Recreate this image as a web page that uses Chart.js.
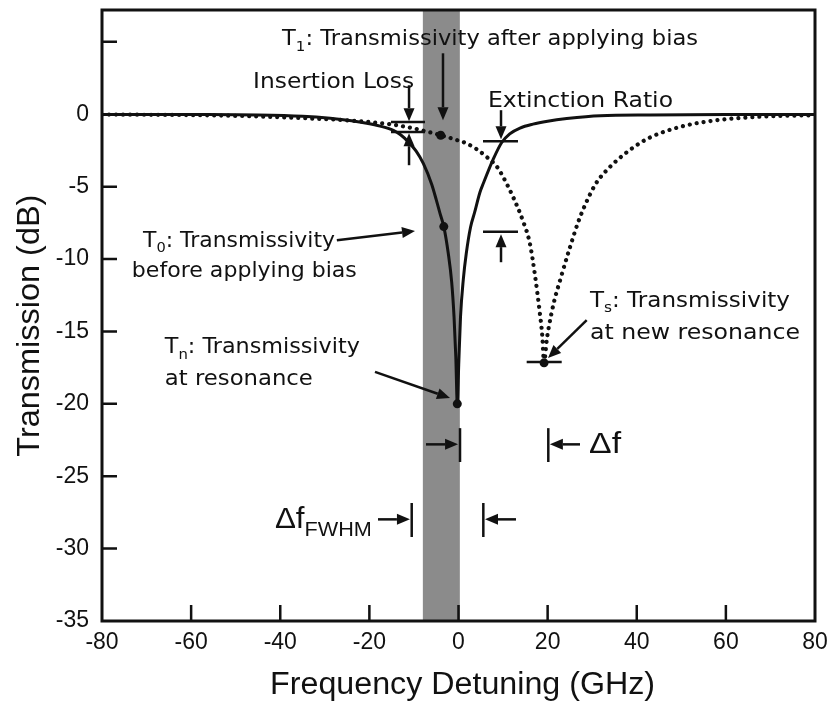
<!DOCTYPE html>
<html>
<head>
<meta charset="utf-8">
<script src="https://cdn.jsdelivr.net/npm/chart.js@4.4.1/dist/chart.umd.min.js"></script>
<style>
  html, body { margin: 0; padding: 0; background: #ffffff; }
  #wrap { width: 829px; height: 703px; }
</style>
</head>
<body>
<div id="wrap"><canvas id="c" width="829" height="703"></canvas></div>
<script>
// Ring resonance before bias (solid): detuning (GHz) and transmission (dB)
const detuningBefore = [-80, -60, -45, -35, -28.8, -24, -20.6, -17.6, -14.5, -13, -11.3, -9.5, -7.9, -6.0, -5.0, -4.15, -3.3, -2.29, -1.53, -1.0, -0.6, -0.27,
  0.05, 0.45, 1.08, 1.75, 2.7, 3.6, 4.8, 5.6, 7.8, 9.7, 11.5, 13.8, 16.7, 20, 24.3, 31.8, 43, 60, 80];
const transBefore = [-0.01, -0.02, -0.05, -0.14, -0.28, -0.45, -0.62, -0.82, -1.13, -1.42, -1.9, -2.55, -3.4, -4.85, -5.9, -6.85, -7.76, -9.62, -11.6, -14.0, -16.8, -20,
  -17.3, -14.0, -11.4, -9.6, -7.8, -6.8, -5.4, -4.75, -3.1, -1.95, -1.35, -0.95, -0.68, -0.48, -0.3, -0.1, -0.05, -0.02, -0.01];

// Shifted resonance after bias (dotted)
const detuningAfter = [-80, -60, -45, -35, -25, -15.4, -10, -7, -4.0, -1, 1.84, 4, 6.33, 8.57, 10.05, 12.3, 14.5, 16.0, 17.2, 18.2, 18.8, 19.2,
  19.8, 20.15, 21.4, 22.8, 25.0, 26.8, 28.5, 30.8, 33, 35.5, 39.2, 43, 50, 57, 65, 72, 80];
const transAfter = [-0.02, -0.06, -0.15, -0.27, -0.42, -0.69, -0.98, -1.2, -1.45, -1.72, -2.02, -2.4, -2.95, -3.6, -4.35, -5.75, -7.4, -8.9, -11.2, -13.6, -15.3, -17.17,
  -15.6, -14.9, -13.0, -11.46, -9.2, -7.5, -6.2, -4.8, -3.95, -3.2, -2.3, -1.6, -0.85, -0.45, -0.22, -0.12, -0.07];

// Marked operating points: T1, T0, Tn, Ts
const markerDetuning = [-4.0, -3.3, -0.27, 19.2];
const markerTrans = [-1.45, -7.76, -20, -17.17];

// Axis ticks
const xTickValues = [-80, -60, -40, -20, 0, 20, 40, 60, 80];
const xTickLabels = ['-80', '-60', '-40', '-20', '0', '20', '40', '60', '80'];
const yTickValues = [-35, -30, -25, -20, -15, -10, -5, 0, 5];
const yTickLabels = ['-35', '-30', '-25', '-20', '-15', '-10', '-5', '0', ''];

// Shaded operating window (GHz)
const windowBand = [-8.0, 0.3];

const toPoints = (xs, ys) => xs.map((x, i) => ({ x: x, y: ys[i] }));

const ink = '#111111';
const annFont = '"DejaVu Sans", "Liberation Sans", sans-serif';
const axisFont = '"Liberation Sans", Arial, sans-serif';

// Annotation layout in data units (GHz, dB)
const arrows = [
  [[-3.48, 4.21], [-3.48, -0.41]],     // T1
  [[-11.1, 2.0], [-11.1, -0.48]],      // insertion loss, down
  [[-11.1, -3.52], [-11.1, -1.31]],    // insertion loss, up
  [[9.54, 0.28], [9.54, -1.73]],       // extinction ratio, down
  [[9.54, -10.22], [9.54, -8.28]],     // extinction ratio, up
  [[-27.3, -8.7], [-9.76, -8.06]],     // T0
  [[-18.74, -17.79], [-1.91, -19.6]],  // Tn
  [[28.77, -14.22], [20.09, -16.84]],  // Ts
  [[-7.3, -22.8], [-0.1, -22.8]],      // delta f, left
  [[27.27, -22.8], [20.5, -22.8]],     // delta f, right
  [[-18.07, -27.98], [-10.9, -27.98]], // FWHM, left
  [[12.9, -27.98], [5.95, -27.98]]     // FWHM, right
];
const bars = [
  [[-15.15, -0.53], [-7.52, -0.53]],
  [[-15.15, -1.22], [-7.52, -1.22]],
  [[5.5, -1.86], [13.35, -1.86]],
  [[5.5, -8.12], [13.35, -8.12]],
  [[15.3, -17.12], [23.16, -17.12]],
  [[0.34, -21.68], [0.34, -24.02]],
  [[20.15, -21.68], [20.15, -24.02]],
  [[-10.5, -26.85], [-10.5, -29.2]],
  [[5.57, -26.85], [5.57, -29.2]]
];
const texts = [
  { at: [-39.6, 4.76], w: 416, size: 21, runs: [{ t: 'T' }, { t: '1', sub: true }, { t: ': Transmissivity after applying bias' }] },
  { at: [-46.1, 1.79], w: 161, size: 21, runs: [{ t: 'Insertion Loss' }] },
  { at: [6.62, 0.48], w: 185, size: 21, runs: [{ t: 'Extinction Ratio' }] },
  { at: [-70.8, -9.16], w: 192, size: 21, runs: [{ t: 'T' }, { t: '0', sub: true }, { t: ': Transmissivity' }] },
  { at: [-73.3, -11.23], w: 225, size: 21, runs: [{ t: 'before applying bias' }] },
  { at: [-65.9, -16.5], w: 195, size: 21, runs: [{ t: 'T' }, { t: 'n', sub: true }, { t: ': Transmissivity' }] },
  { at: [-65.9, -18.71], w: 148, size: 21, runs: [{ t: 'at resonance' }] },
  { at: [29.5, -13.3], w: 200, size: 21, runs: [{ t: 'T' }, { t: 's', sub: true }, { t: ': Transmissivity' }] },
  { at: [29.5, -15.53], w: 210, size: 21, runs: [{ t: 'at new resonance' }] },
  { at: [29.3, -23.4], w: 32, size: 29, family: axisFont, runs: [{ t: 'Δf' }] },
  { at: [-41.2, -28.58], w: 97, size: 29, family: axisFont, runs: [{ t: 'Δf' }, { t: 'FWHM', sub: true }] }
];

function drawRuns(ctx, runs, x, y, size, width, family, rotate) {
  let total = 0;
  runs.forEach(r => {
    r.fs = r.sub ? Math.round(size * 0.68) : size;
    ctx.font = r.fs + 'px ' + family;
    r.w = ctx.measureText(r.t).width;
    total += r.w;
  });
  const k = width ? width / total : 1;
  ctx.save();
  ctx.translate(x, y);
  if (rotate) ctx.rotate(rotate);
  ctx.scale(k, 1);
  ctx.textAlign = 'left';
  ctx.textBaseline = 'alphabetic';
  let cx = 0;
  runs.forEach(r => {
    ctx.font = r.fs + 'px ' + family;
    ctx.fillText(r.t, cx, r.sub ? size * 0.26 : 0);
    cx += r.w;
  });
  ctx.restore();
}

const figurePlugin = {
  id: 'figureMarks',
  beforeDatasetsDraw(chart) {
    const { ctx, chartArea: a, scales } = chart;
    const x1 = scales.x.getPixelForValue(windowBand[0]);
    const x2 = scales.x.getPixelForValue(windowBand[1]);
    ctx.save();
    ctx.fillStyle = '#8b8b8b';
    ctx.fillRect(x1, a.top, x2 - x1, a.bottom - a.top);
    ctx.restore();
  },
  afterDatasetsDraw(chart) {
    const { ctx, chartArea: a, scales } = chart;
    const P = (p) => [scales.x.getPixelForValue(p[0]), scales.y.getPixelForValue(p[1])];
    ctx.save();
    ctx.strokeStyle = ink;
    ctx.fillStyle = ink;

    // frame
    ctx.lineWidth = 3;
    ctx.strokeRect(a.left, a.top, a.right - a.left, a.bottom - a.top);

    // inward tick marks
    ctx.lineWidth = 2.5;
    ctx.beginPath();
    yTickValues.forEach(v => {
      if (v <= -35) return;
      const y = scales.y.getPixelForValue(v);
      ctx.moveTo(a.left, y); ctx.lineTo(a.left + 15, y);
    });
    xTickValues.forEach(v => {
      if (v <= -80 || v >= 80) return;
      const x = scales.x.getPixelForValue(v);
      ctx.moveTo(x, a.bottom); ctx.lineTo(x, a.bottom - 16);
    });
    ctx.stroke();

    // bars
    ctx.lineWidth = 2.5;
    bars.forEach(b => {
      const p = P(b[0]), q = P(b[1]);
      ctx.beginPath(); ctx.moveTo(p[0], p[1]); ctx.lineTo(q[0], q[1]); ctx.stroke();
    });

    // arrows
    arrows.forEach(ar => {
      const [x1, y1] = P(ar[0]);
      const [x2, y2] = P(ar[1]);
      const ang = Math.atan2(y2 - y1, x2 - x1);
      const L = 13, W = 5.5;
      const bx = x2 - L * Math.cos(ang), by = y2 - L * Math.sin(ang);
      ctx.lineWidth = 2.5;
      ctx.beginPath(); ctx.moveTo(x1, y1); ctx.lineTo(bx, by); ctx.stroke();
      ctx.beginPath();
      ctx.moveTo(x2, y2);
      ctx.lineTo(bx + W * Math.sin(ang), by - W * Math.cos(ang));
      ctx.lineTo(bx - W * Math.sin(ang), by + W * Math.cos(ang));
      ctx.closePath(); ctx.fill();
    });

    // labels
    ctx.fillStyle = '#111111';
    texts.forEach(t => {
      const [x, y] = P(t.at);
      drawRuns(ctx, t.runs, x, y, t.size, t.w, t.family || annFont);
    });

    // axis titles
    const yMid = scales.y.getPixelForValue(-14.6);
    drawRuns(ctx, [{ t: 'Transmission (dB)' }], 39, yMid + 131, 31, 262, axisFont, -Math.PI / 2);
    const xMid = scales.x.getPixelForValue(0.8);
    drawRuns(ctx, [{ t: 'Frequency Detuning (GHz)' }], xMid - 192, 694, 31, 385, axisFont);
    ctx.restore();
  }
};

new Chart(document.getElementById('c'), {
  type: 'scatter',
  data: {
    datasets: [
      {
        label: 'before bias',
        data: toPoints(detuningBefore, transBefore),
        showLine: true,
        borderColor: ink,
        borderWidth: 3,
        pointRadius: 0,
        cubicInterpolationMode: 'monotone',
        order: 2
      },
      {
        label: 'after bias',
        data: toPoints(detuningAfter, transAfter),
        showLine: true,
        borderColor: ink,
        borderWidth: 4.2,
        borderDash: [0.01, 7],
        borderCapStyle: 'round',
        pointRadius: 0,
        cubicInterpolationMode: 'monotone',
        order: 3
      },
      {
        label: 'points',
        data: toPoints(markerDetuning, markerTrans),
        showLine: false,
        pointRadius: 4.5,
        pointBackgroundColor: ink,
        pointBorderWidth: 0,
        order: 1
      }
    ]
  },
  options: {
    responsive: false,
    devicePixelRatio: 1,
    animation: false,
    events: [],
    layout: { padding: { left: 0, right: 14, top: 10, bottom: 0 } },
    plugins: { legend: { display: false }, tooltip: { enabled: false } },
    scales: {
      x: {
        type: 'linear',
        min: -80, max: 80,
        afterFit: (s) => { s.height = 82; s.paddingLeft = 0; s.paddingRight = 0; },
        afterBuildTicks: (s) => { s.ticks = xTickValues.map(v => ({ value: v })); },
        grid: { display: false, drawTicks: false },
        border: { display: false },
        ticks: {
          padding: 8,
          color: '#111111',
          font: { family: axisFont, size: 23 },
          callback: (v) => { const i = xTickValues.indexOf(v); return i >= 0 ? xTickLabels[i] : ''; }
        }
      },
      y: {
        type: 'linear',
        min: -35, max: 7.2,
        afterFit: (s) => { s.width = 102; s.paddingTop = 0; s.paddingBottom = 0; },
        afterBuildTicks: (s) => { s.ticks = yTickValues.map(v => ({ value: v })); },
        grid: { display: false, drawTicks: false },
        border: { display: false },
        ticks: {
          padding: 13,
          color: '#111111',
          font: { family: axisFont, size: 23 },
          callback: (v) => { const i = yTickValues.indexOf(v); return i >= 0 ? yTickLabels[i] : ''; }
        }
      }
    }
  },
  plugins: [figurePlugin]
});
</script>
</body>
</html>
